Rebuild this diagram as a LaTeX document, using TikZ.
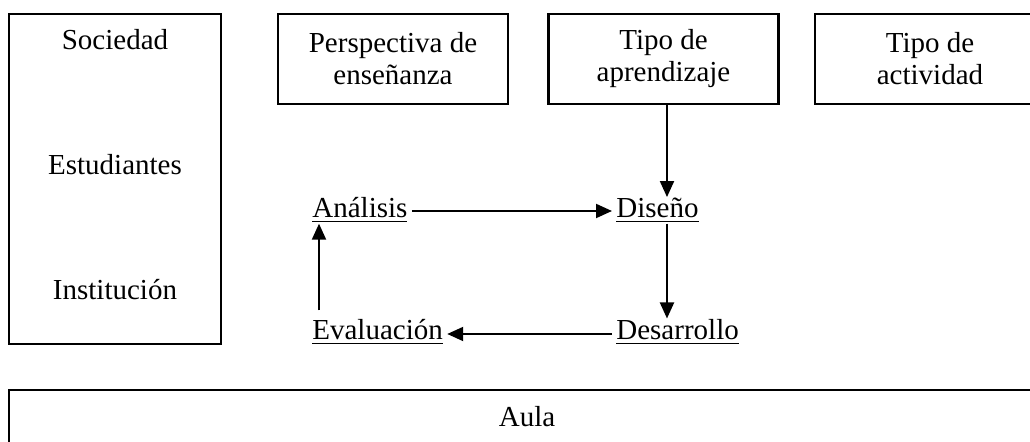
\documentclass[tikz,border=0pt]{standalone}
\usepackage{fontspec}
\setmainfont{Liberation Serif}
\usetikzlibrary{arrows.meta,positioning}
\tikzset{
  box/.style={draw, line width=1.1pt, align=center, minimum width=115pt, minimum height=45pt, inner sep=0pt},
  phase/.style={inner xsep=2pt, inner ysep=0.5pt, anchor=base west},
  flow/.style={-{Triangle[length=8pt,width=7pt]}, line width=1pt}
}
\begin{document}
\begin{tikzpicture}[x=0.5pt,y=-0.5pt,font=\fontsize{14.5}{16}\selectfont]
\clip (0,0) rectangle (1030,442);
% context
\node[draw, line width=1.1pt, minimum width=106pt, minimum height=165pt] (ctx) at (115,179) {};
\node[anchor=base] (soc) at (115,50) {Sociedad};
\node[anchor=base] (est) at (115,175) {Estudiantes};
\node[anchor=base] (ins) at (115,300) {Institución};
% top boxes
\node[box] (per) at (393,59) {Perspectiva de\\enseñanza};
\node[box] (apr) at (663.5,59) {Tipo de\\aprendizaje};
\node[box] (act) at (930,59) {Tipo de\\actividad};
% cycle
\node[phase] (ana) at (308,218) {\underline{Análisis}};
\node[phase] (dis) at (612,218) {\underline{Diseño}};
\node[phase] (eva) at (308,340) {\underline{Evaluación}};
\node[phase] (des) at (612,340) {\underline{Desarrollo}};
\coordinate (vline) at (667,0);
\draw[flow] (apr.south -| vline) -- (dis.north -| vline);
\draw[flow] ([yshift=3.5pt]ana.base east) -- ([yshift=3.5pt]dis.base west);
\draw[flow] (dis.south -| vline) -- (des.north -| vline);
\draw[flow] ([yshift=3pt]des.base west) -- ([yshift=3pt]eva.base east);
\draw[flow, shorten <=4pt] ([xshift=5.5pt]eva.north west) -- ([xshift=5.5pt]ana.south west);
% classroom
\node[box, anchor=north, minimum width=518pt, minimum height=0pt, inner ysep=8pt, text depth=22pt] (aula) at (527,389) {Aula};
\end{tikzpicture}
\end{document}
